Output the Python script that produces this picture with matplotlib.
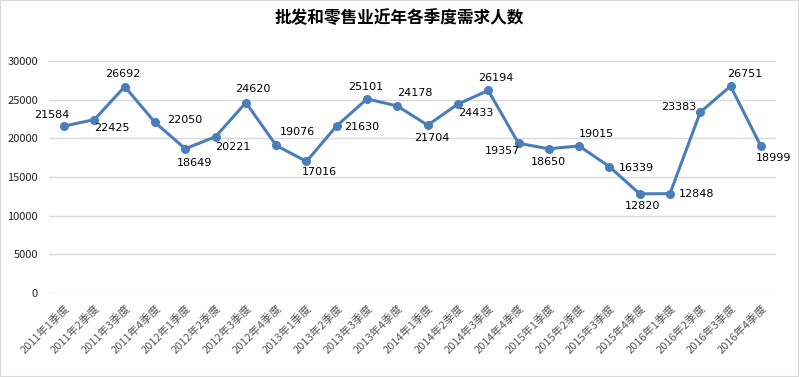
import matplotlib.pyplot as plt
from matplotlib.patches import Rectangle

plt.rcParams['font.family'] = ['Noto Sans CJK SC', 'DejaVu Sans']

quarters = [f"{y}年{q}季度" for y in range(2011, 2017) for q in range(1, 5)]
demand = [21584, 22425, 26692, 22050,
          18649, 20221, 24620, 19076,
          17016, 21630, 25101, 24178,
          21704, 24433, 26194, 19357,
          18650, 19015, 16339, 12820,
          12848, 23383, 26751, 18999]

# label offsets in pixels (dx, dy) relative to each point
label_offsets = [(-12, 11), (17, -8), (-2, 13), (30, 2),
                 (9, -14), (17, -10), (7, 14), (21, 13),
                 (13, -11), (25, -1), (-1, 12), (18, 13),
                 (4, -13), (18, -9), (8, 12), (-16, -8),
                 (0, -13), (17, 12), (27, -1), (3, -12),
                 (27, 0), (-22, 5), (14, 12), (13, -12)]

fig = plt.figure(figsize=(7.99, 3.77), dpi=100)
ax = fig.add_axes([49 / 799, 1 - 293 / 377, 727 / 799, 232 / 377])

x = range(len(quarters))
ax.plot(x, demand, color="#4a7ebb", lw=2.2, marker="o", markersize=5.5,
        solid_joinstyle="round")

for i, v in enumerate(demand):
    dx, dy = label_offsets[i]
    ax.annotate(str(v), (i, v), xytext=(dx, dy), textcoords="offset pixels",
                ha="center", va="center", fontsize=8, color="#000000",
                family="DejaVu Sans")

ax.set_xlim(-0.5, len(quarters) - 0.5)
ax.set_ylim(0, 30000)
ax.set_yticks(range(0, 30001, 5000))
ax.grid(axis="y", color="#d9d9d9", lw=1)
ax.set_axisbelow(True)
for s in ax.spines.values():
    s.set_visible(False)
ax.tick_params(length=0)
ax.tick_params(axis="y", labelsize=8, labelcolor="#262626", pad=8)
ax.set_xticks(list(x))
ax.set_xticklabels(quarters, rotation=45, ha="right", va="top",
                   rotation_mode="anchor", fontsize=8, color="#595959")
ax.tick_params(axis="x", pad=7)

fig.suptitle("批发和零售业近年各季度需求人数", x=0.5, y=0.975, va="top",
             fontsize=12, fontweight="bold")

fig.patches.append(Rectangle((0, 0), 1, 1, transform=fig.transFigure,
                             fill=False, ec="#d9d9d9", lw=1.5))

fig.savefig("out.png", dpi=100)
